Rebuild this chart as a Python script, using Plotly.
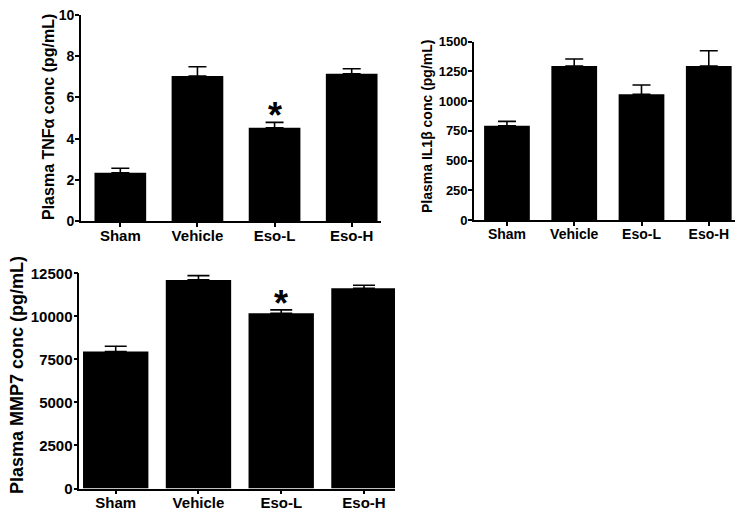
import plotly.graph_objects as go

groups = ["Sham", "Vehicle", "Eso-L", "Eso-H"]

# plasma TNF-alpha (pg/mL)
tnf_mean = [2.34, 7.04, 4.53, 7.15]
tnf_sem = [0.22, 0.45, 0.26, 0.24]

# plasma IL1-beta (pg/mL)
il1_mean = [793, 1295, 1057, 1295]
il1_sem = [37, 59, 79, 129]

# plasma MMP7 (pg/mL)
mmp_mean = [7954, 12117, 10183, 11634]
mmp_sem = [313, 249, 192, 174]

W, H = 743, 512
OFF = 8  # page body margin pushes the plot 8px right and down
FONT = "Liberation Sans, Arial, sans-serif"


def px_x(a, b):
    return [(a - OFF) / W, (b - OFF) / W]


def px_y(top, bottom):
    return [1 - (bottom - OFF) / H, 1 - (top - OFF) / H]


fig = go.Figure()

panels = [
    # mean, sem, axis suffix, bar width, cap, x dom, y dom, y range, dtick, x range, y/x tick font
    (tnf_mean, tnf_sem, "", 0.67, 9, px_x(81, 381), px_y(15, 221), [0, 10], 2, [-0.51, 3.38], 14, 15),
    (il1_mean, il1_sem, "2", 0.68, 9, px_x(474, 735), px_y(41.7, 220), [0, 1500], 250, [-0.49, 3.39], 13, 14),
    (mmp_mean, mmp_sem, "3", 0.79, 11, px_x(79.3, 395), px_y(273.3, 488.5), [0, 12500], 2500, [-0.44, 3.375], 15, 15),
]

for mean, sem, ax, bw, cap, xd, yd, yr, dt, xr, yfs, xfs in panels:
    fig.add_trace(go.Bar(
        x=groups, y=mean, width=bw,
        marker=dict(color="black", line=dict(color="black", width=0)),
        error_y=dict(type="data", symmetric=False, array=sem,
                     arrayminus=[0] * len(sem), color="black",
                     thickness=1.6, width=cap),
        xaxis="x" + ax, yaxis="y" + ax, showlegend=False,
    ))
    fig.layout["xaxis" + ax] = dict(
        domain=xd, range=xr, anchor="y" + ax, showgrid=False, zeroline=False,
        showline=True, linecolor="black", linewidth=1.6,
        ticks="outside", ticklen=4, tickwidth=1.6, tickcolor="black",
        ticklabelstandoff=-4, automargin=False, ticklabeloverflow="allow",
        tickfont=dict(family=FONT, size=xfs, color="black", weight="bold"),
    )
    fig.layout["yaxis" + ax] = dict(
        domain=yd, range=yr, anchor="x" + ax, showgrid=False, zeroline=False,
        showline=True, linecolor="black", linewidth=1.6,
        tickmode="linear", tick0=0, dtick=dt, tickformat="d",
        ticks="outside", ticklen=4, tickwidth=1.6, tickcolor="black",
        ticklabelstandoff=-2, automargin=False, ticklabeloverflow="allow",
        tickfont=dict(family=FONT, size=yfs, color="black", weight="bold"),
    )

titles = [
    ("Plasma TNF\u03b1 conc (pg/mL)", 48, 117, 16),
    ("Plasma IL1\u03b2 conc (pg/mL)", 427, 127, 14),
    ("Plasma MMP7 conc (pg/mL)", 17, 375, 18),
]
for text, cx, cy, fs in titles:
    fig.add_annotation(
        text=text, xref="paper", yref="paper",
        x=(cx - OFF) / W, y=1 - (cy - OFF) / H,
        textangle=-90, showarrow=False, xanchor="center", yanchor="middle",
        font=dict(family=FONT, size=fs, color="black", weight="bold"),
    )

# significance marks above Eso-L
for mean, sem, ax in [(tnf_mean, tnf_sem, ""), (mmp_mean, mmp_sem, "3")]:
    fig.add_annotation(
        text="*", x="Eso-L", y=mean[2] + sem[2], xref="x" + ax, yref="y" + ax,
        showarrow=False, yanchor="bottom", yshift=-16,
        font=dict(family=FONT, size=36, color="black", weight="bold"),
    )

fig.update_layout(
    width=W, height=H, margin=dict(l=0, r=0, t=0, b=0, pad=0, autoexpand=False),
    paper_bgcolor="white", plot_bgcolor="white", bargap=0.3,
)

fig.write_html("out.html")
